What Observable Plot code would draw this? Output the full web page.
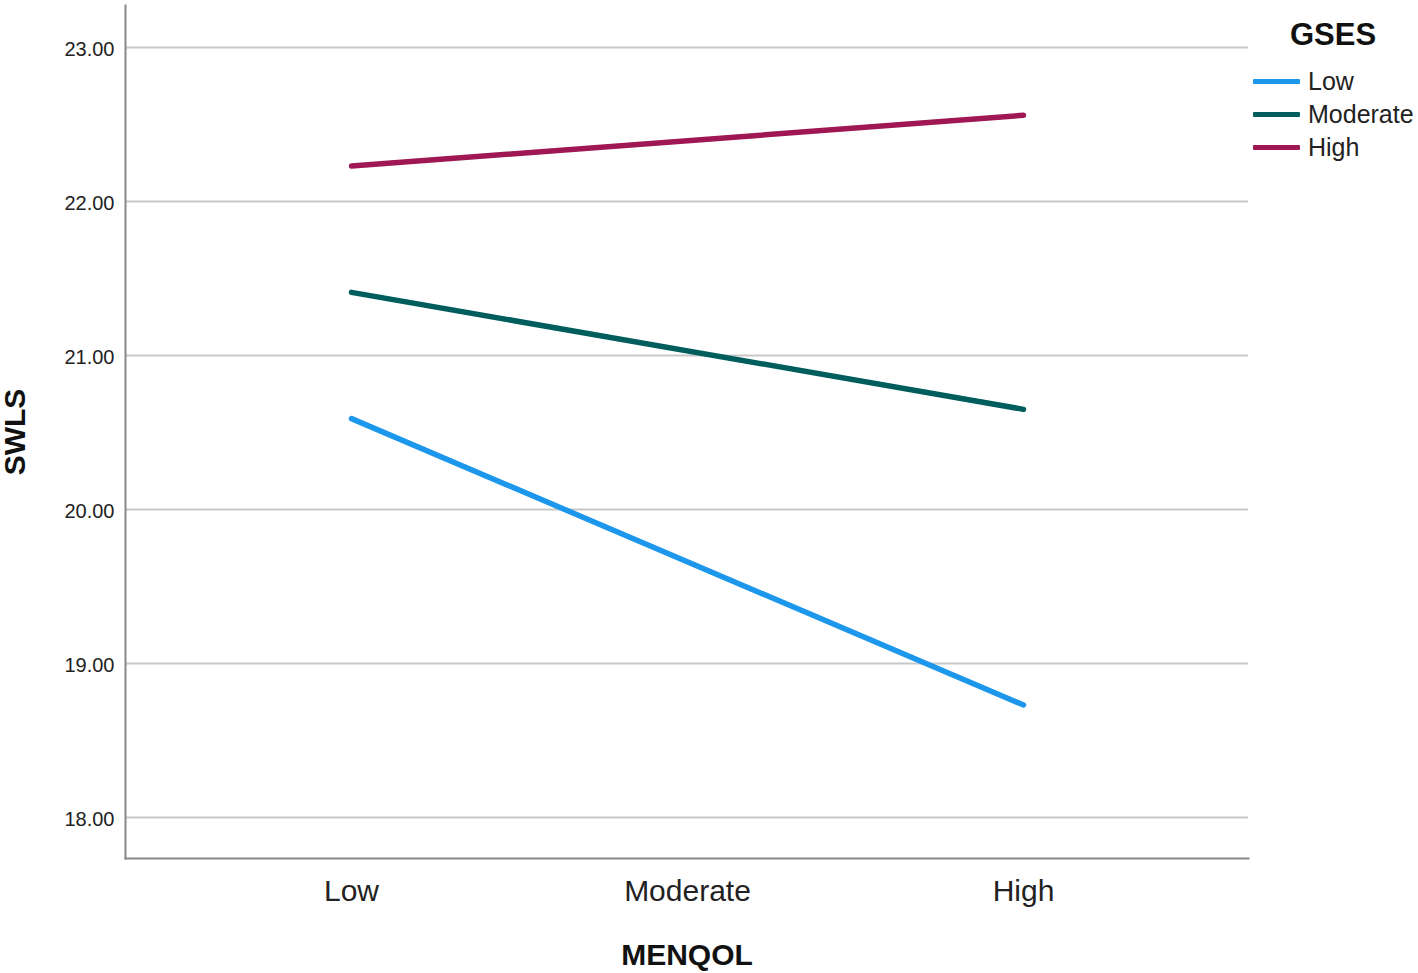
<!DOCTYPE html>
<html>
<head>
<meta charset="utf-8">
<script src="https://cdn.jsdelivr.net/npm/d3@7"></script>
<script src="https://cdn.jsdelivr.net/npm/@observablehq/plot@0.6"></script>
<style>
  html, body { margin: 0; padding: 0; background: #fff; }
  #wrap { position: relative; width: 1418px; height: 973px; font-family: "Liberation Sans", Arial, sans-serif; }
  #legend { position: absolute; left: 1253px; top: 17px; color: #111; }
  #legend .title { font-weight: bold; font-size: 31px; margin-left: 37px; margin-bottom: 12px; }
  #legend .item { display: flex; align-items: center; height: 33px; font-size: 25px; color: #222; }
  #legend .sw { width: 47px; height: 5px; margin-right: 8px; border-radius: 1px; }
</style>
</head>
<body>
<div id="wrap"><div id="chart"></div><div id="legend"></div></div>
<script>
// MENQOL categories (x axis)
const menqol = ["Low", "Moderate", "High"];
// GSES groups (series)
const gses = ["Low", "Moderate", "High"];
const gsesColors = ["#1c97ec", "#005d5d", "#9f1853"];
// Estimated marginal means of SWLS at MENQOL Low and High
const xPoints = ["Low", "High"];
const swlsLowGSES = [20.59, 18.73];
const swlsModerateGSES = [21.41, 20.65];
const swlsHighGSES = [22.23, 22.56];
// Y axis ticks
const yTicks = [18, 19, 20, 21, 22, 23];
const yDomain = [17.733, 23.273];

const series = [swlsLowGSES, swlsModerateGSES, swlsHighGSES];
const data = [];
gses.forEach((g, i) => xPoints.forEach((m, j) => data.push({gses: g, menqol: m, swls: series[i][j]})));

const chart = Plot.plot({
  width: 1418,
  height: 973,
  marginLeft: 125,
  marginRight: 170,
  marginTop: 5,
  marginBottom: 115,
  style: {fontFamily: "'Liberation Sans', Arial, sans-serif", background: "#fff", overflow: "visible"},
  x: {type: "point", domain: menqol, padding: 0.671},
  y: {domain: yDomain},
  color: {domain: gses, range: gsesColors},
  marks: [
    Plot.ruleY(yTicks, {stroke: "#c8c8c8", strokeWidth: 2}),
    Plot.axisY({ticks: yTicks, tickFormat: d => d.toFixed(2), tickSize: 0, tickPadding: 11, fontSize: 20, fill: "#222", dy: 2,
      label: "SWLS", labelArrow: "none", labelAnchor: "center", labelOffset: 122}),
    Plot.axisX({tickSize: 0, tickPadding: 21, fontSize: 30, fill: "#222",
      label: "MENQOL", labelArrow: "none", labelAnchor: "center", labelOffset: 106}),
    Plot.frame({anchor: "left", stroke: "#888", strokeWidth: 2}),
    Plot.frame({anchor: "bottom", stroke: "#888", strokeWidth: 2}),
    Plot.line(data, {x: "menqol", y: "swls", stroke: "gses", z: "gses", strokeWidth: 5.5})
  ]
});
// style axis labels bold
chart.querySelectorAll("g[aria-label='y-axis label'] text, g[aria-label='x-axis label'] text").forEach(t => {
  t.setAttribute("font-weight", "bold");
  t.setAttribute("font-size", "30");
  t.setAttribute("fill", "#111");
});
document.getElementById("chart").appendChild(chart);

const legend = document.getElementById("legend");
legend.innerHTML = `<div class="title">GSES</div>` + gses.map((g, i) =>
  `<div class="item"><div class="sw" style="background:${gsesColors[i]}"></div>${g}</div>`).join("");
</script>
</body>
</html>
